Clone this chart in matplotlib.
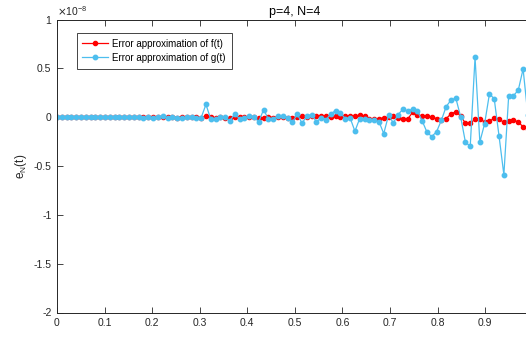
import numpy as np
import matplotlib.pyplot as plt
from matplotlib.ticker import FuncFormatter

plt.rcParams['font.family'] = ['Liberation Sans', 'DejaVu Sans']
plt.rcParams['axes.unicode_minus'] = False

# t sampled on [0, 1] with 100 points; errors in units of 1e-8
t = np.linspace(0, 1, 100)

err_f = [
    0, 0, 0, 0, 0, 0, 0, 0, 0, 0,
    0, 0, 0, 0, 0, 0.002, 0, -0.002, 0.003, 0,
    -0.003, 0.002, 0.004, -0.002, 0.003, -0.004, 0.005, -0.003, 0.004, 0.002,
    -0.005, 0.013, 0.002, -0.006, 0.005, -0.004, -0.01, 0.006, -0.003, 0.004,
    -0.002, 0.006, -0.008, -0.01, 0.003, -0.004, 0.005, 0.002, -0.005, -0.007,
    0.004, 0.007, 0, 0.007, 0.013, 0.007, 0.007, 0, 0.007, 0,
    0.007, 0.013, 0.013, 0.02, 0.007, -0.014, -0.021, -0.014, -0.007, 0,
    0.007, -0.007, -0.014, -0.017, 0.048, 0.02, 0.013, 0.013, 0, -0.014,
    -0.028, -0.014, 0.034, 0.055, 0.013, -0.062, -0.062, -0.021, -0.021, -0.048,
    -0.041, -0.01, -0.021, -0.052, -0.035, -0.031, -0.048, -0.1, -0.12, -0.14,
]

err_g = [
    0, 0, 0, 0, 0, 0, 0, 0, 0, 0,
    0, 0, 0, 0, 0, 0.004, -0.003, 0.005, -0.004, 0.003,
    -0.006, 0.004, 0.007, -0.005, 0.006, -0.008, -0.01, 0, 0, -0.005,
    -0.005, 0.13, -0.021, -0.021, 0.003, -0.003, -0.038, 0.034, -0.017, -0.01,
    0.01, -0.003, -0.045, 0.078, -0.021, -0.021, 0.007, 0.007, -0.004, -0.052,
    0.03, -0.062, 0.013, 0.027, -0.048, -0.007, -0.024, 0.034, 0.068, 0.041,
    -0.014, -0.007, -0.144, -0.014, -0.014, -0.031, -0.031, -0.045, -0.168, 0.02,
    -0.059, 0.027, 0.082, 0.062, 0.082, 0.065, -0.038, -0.154, -0.199, -0.148,
    -0.031, 0.109, 0.175, 0.195, 0.006, -0.257, -0.298, 0.612, -0.254, -0.065,
    0.24, 0.186, -0.195, -0.59, 0.219, 0.22, 0.277, 0.493, 0.02, -0.1,
]

labels = ["Error approximation of f(t)", "Error approximation of g(t)"]
title = "p=4, N=4"

fig = plt.figure(figsize=(5.26, 3.37), dpi=100)
ax = fig.add_axes([57 / 526, 24.5 / 337, 475.7 / 526, 293 / 337])

ax.plot(t, err_f, '-o', color='#ff0000', lw=0.9, ms=3.0, label=labels[0])
ax.plot(t, err_g, '-o', color='#4dbeee', lw=0.9, ms=3.2, label=labels[1])

ax.set_xlim(0, 1)
ax.set_ylim(-2, 1)
xt = np.arange(0, 1.01, 0.1)
ax.set_xticks(xt)
# the axis runs a few pixels past the right edge, so "1" is not shown
ax.set_xticklabels(['%g' % round(v, 1) for v in xt[:-1]] + [''])
ax.set_yticks(np.arange(-2, 1.01, 0.5))
ax.yaxis.set_major_formatter(FuncFormatter(lambda v, p: '%g' % round(v, 2)))

gray = '#262626'
for s in ax.spines.values():
    s.set_color(gray)
    s.set_linewidth(0.7)
ax.tick_params(direction='in', length=4, width=0.6, colors=gray,
               labelsize=7.5, top=True, right=True, pad=4)

ax.text(0, 1.006, r'$\times$10$^{\mathregular{-8}}$', transform=ax.transAxes,
        fontsize=7.5, color=gray, va='bottom', ha='left')
ax.set_title(title, fontsize=9, color='black', pad=3)
ax.set_ylabel(r'e$_{\mathregular{N}}$(t)', fontsize=8.5, color=gray, labelpad=3)

leg = ax.legend(loc='upper left', bbox_to_anchor=(0.041, 0.955), borderaxespad=0,
                fontsize=7, handlelength=2.6, handletextpad=0.5,
                fancybox=False, framealpha=1, edgecolor=gray, labelspacing=0.45,
                borderpad=0.6)
leg.get_frame().set_linewidth(0.6)

fig.savefig('out.png', dpi=100)
